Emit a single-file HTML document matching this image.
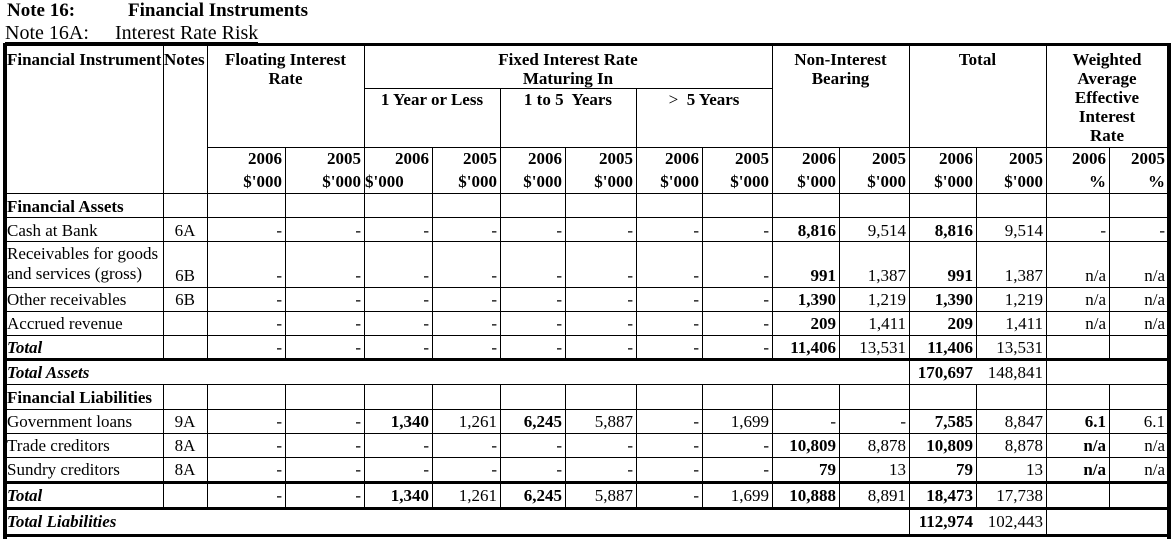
<!DOCTYPE html>
<html><head><meta charset="utf-8">
<style>
body{margin:0;background:#fff;width:1174px;height:539px;overflow:hidden;position:relative;font-family:"Liberation Serif",serif;color:#000}
.a{position:absolute;white-space:nowrap}
.r{position:absolute;left:0;width:1174px;font-size:17px}
.r .a{text-align:right}
.b{font-weight:bold}
.k0{left:207px;width:75px}.k1{left:285px;width:76px}.k2{left:364px;width:65px}.k3{left:432px;width:65px}
.k4{left:500px;width:62px}.k5{left:565px;width:68px}.k6{left:636px;width:63px}.k7{left:702px;width:67px}
.k8{left:772px;width:64px}.k9{left:839px;width:67px}.k10{left:909px;width:64px}.k11{left:976px;width:67px}
.k12{left:1046px;width:60px}.k13{left:1109px;width:56px}
.r .lab{left:7px;text-align:left}
.r .nt{left:163px;width:44px;text-align:center}
.h{font-weight:bold;font-size:17px;text-align:center;line-height:19px}
</style></head><body>
<div class="a b" style="left:7px;top:0px;font-size:19px;line-height:22px">Note 16:</div>
<div class="a b" style="left:128px;top:0px;font-size:19px;line-height:22px">Financial Instruments</div>
<div class="a" style="left:5px;top:21px;font-size:20px;line-height:24px;width:253px;border-bottom:1px solid #000;height:21px;overflow:visible">Note 16A:<span class="a" style="left:110px;top:0">Interest Rate Risk</span></div>

<svg class="a" style="left:0;top:0" width="1174" height="539" shape-rendering="crispEdges">
<g stroke="#000" stroke-width="1">
<line x1="364" y1="88.5" x2="772" y2="88.5"/>
<line x1="207" y1="147.5" x2="1168" y2="147.5"/>
<line x1="4" y1="193.5" x2="1168" y2="193.5"/>
<line x1="4" y1="217.5" x2="1168" y2="217.5"/>
<line x1="4" y1="241.5" x2="1168" y2="241.5"/>
<line x1="4" y1="287.5" x2="1168" y2="287.5"/>
<line x1="4" y1="311.5" x2="1168" y2="311.5"/>
<line x1="4" y1="335.5" x2="1168" y2="335.5"/>
<line x1="4" y1="384.5" x2="1168" y2="384.5"/>
<line x1="4" y1="409.5" x2="1168" y2="409.5"/>
<line x1="4" y1="433.5" x2="1168" y2="433.5"/>
<line x1="4" y1="457.5" x2="1168" y2="457.5"/>
<path d="M163.5 46V359M207.5 46V359M364.5 46V359M772.5 46V359M909.5 46V359M1046.5 46V359"/>
<path d="M500.5 88V359M636.5 88V359"/>
<path d="M285.5 147V359M432.5 147V359M565.5 147V359M702.5 147V359M839.5 147V359M976.5 147V359M1109.5 147V359"/>
<path d="M163.5 384V509M207.5 384V509M285.5 384V509M364.5 384V509M432.5 384V509M500.5 384V509M565.5 384V509M636.5 384V509M702.5 384V509M772.5 384V509M839.5 384V509M909.5 384V509M976.5 384V509M1046.5 384V509M1109.5 384V509"/>
<path d="M909.5 359V384M1046.5 359V384M909.5 509V536M1046.5 509V536"/>
</g>
<g fill="#000">
<rect x="3" y="43" width="1168" height="3"/>
<rect x="3" y="43" width="4" height="496"/>
<rect x="1167" y="43" width="4" height="496"/>
<rect x="3" y="358" width="1168" height="3"/>
<rect x="3" y="481" width="1168" height="3"/>
<rect x="3" y="507" width="1168" height="3"/>
<rect x="3" y="534" width="1168" height="3"/>
</g>
</svg>

<div class="a h" style="left:7px;top:50px;text-align:left">Financial Instrument</div>
<div class="a h" style="left:164px;top:50px;text-align:left">Notes</div>
<div class="a h" style="left:207px;top:50px;width:157px">Floating Interest<br>Rate</div>
<div class="a h" style="left:364px;top:50px;width:408px">Fixed Interest Rate<br>Maturing In</div>
<div class="a h" style="left:364px;top:90px;width:136px">1 Year or Less</div>
<div class="a h" style="left:500px;top:90px;width:136px">1 to 5&nbsp; Years</div>
<div class="a h" style="left:636px;top:90px;width:136px"><span style="font-weight:normal">&gt;</span>&nbsp; 5 Years</div>
<div class="a h" style="left:772px;top:50px;width:137px">Non-Interest<br>Bearing</div>
<div class="a h" style="left:909px;top:50px;width:137px">Total</div>
<div class="a h" style="left:1046px;top:50px;width:122px">Weighted<br>Average<br>Effective<br>Interest<br>Rate</div>

<div class="r b" style="top:149px;height:20px;line-height:20px">
<div class="a k0">2006</div><div class="a k1">2005</div><div class="a k2">2006</div><div class="a k3">2005</div><div class="a k4">2006</div><div class="a k5">2005</div><div class="a k6">2006</div><div class="a k7">2005</div><div class="a k8">2006</div><div class="a k9">2005</div><div class="a k10">2006</div><div class="a k11">2005</div><div class="a k12">2006</div><div class="a k13">2005</div>
</div>
<div class="r b" style="top:172px;height:20px;line-height:20px">
<div class="a k0">$'000</div><div class="a k1">$'000</div><div class="a" style="left:365px;text-align:left">$'000</div><div class="a k3">$'000</div><div class="a k4">$'000</div><div class="a k5">$'000</div><div class="a k6">$'000</div><div class="a k7">$'000</div><div class="a k8">$'000</div><div class="a k9">$'000</div><div class="a k10">$'000</div><div class="a k11">$'000</div><div class="a k12">%</div><div class="a k13">%</div>
</div>

<div class="r" style="top:196px;line-height:21px"><div class="a lab b">Financial Assets</div></div>
<div class="r" style="top:220px;line-height:21px"><div class="a lab">Cash at Bank</div><div class="a nt">6A</div>
<div class="a k0">-</div><div class="a k1">-</div><div class="a k2">-</div><div class="a k3">-</div><div class="a k4">-</div><div class="a k5">-</div><div class="a k6">-</div><div class="a k7">-</div><div class="a k8 b">8,816</div><div class="a k9">9,514</div><div class="a k10 b">8,816</div><div class="a k11">9,514</div><div class="a k12">-</div><div class="a k13">-</div></div>
<div class="r" style="top:244px;line-height:20px"><div class="a lab">Receivables for goods<br>and services (gross)</div></div>
<div class="r" style="top:265px;line-height:21px"><div class="a nt">6B</div>
<div class="a k0">-</div><div class="a k1">-</div><div class="a k2">-</div><div class="a k3">-</div><div class="a k4">-</div><div class="a k5">-</div><div class="a k6">-</div><div class="a k7">-</div><div class="a k8 b">991</div><div class="a k9">1,387</div><div class="a k10 b">991</div><div class="a k11">1,387</div><div class="a k12">n/a</div><div class="a k13">n/a</div></div>
<div class="r" style="top:289px;line-height:21px"><div class="a lab">Other receivables</div><div class="a nt">6B</div>
<div class="a k0">-</div><div class="a k1">-</div><div class="a k2">-</div><div class="a k3">-</div><div class="a k4">-</div><div class="a k5">-</div><div class="a k6">-</div><div class="a k7">-</div><div class="a k8 b">1,390</div><div class="a k9">1,219</div><div class="a k10 b">1,390</div><div class="a k11">1,219</div><div class="a k12">n/a</div><div class="a k13">n/a</div></div>
<div class="r" style="top:313px;line-height:21px"><div class="a lab">Accrued revenue</div>
<div class="a k0">-</div><div class="a k1">-</div><div class="a k2">-</div><div class="a k3">-</div><div class="a k4">-</div><div class="a k5">-</div><div class="a k6">-</div><div class="a k7">-</div><div class="a k8 b">209</div><div class="a k9">1,411</div><div class="a k10 b">209</div><div class="a k11">1,411</div><div class="a k12">n/a</div><div class="a k13">n/a</div></div>
<div class="r" style="top:337px;line-height:21px"><div class="a lab b"><i>Total</i></div>
<div class="a k0">-</div><div class="a k1">-</div><div class="a k2">-</div><div class="a k3">-</div><div class="a k4">-</div><div class="a k5">-</div><div class="a k6">-</div><div class="a k7">-</div><div class="a k8 b">11,406</div><div class="a k9">13,531</div><div class="a k10 b">11,406</div><div class="a k11">13,531</div></div>
<div class="r" style="top:362px;line-height:21px"><div class="a lab b"><i>Total Assets</i></div><div class="a k10 b">170,697</div><div class="a k11">148,841</div></div>
<div class="r" style="top:387px;line-height:21px"><div class="a lab b">Financial Liabilities</div></div>
<div class="r" style="top:411px;line-height:21px"><div class="a lab">Government loans</div><div class="a nt">9A</div>
<div class="a k0">-</div><div class="a k1">-</div><div class="a k2 b">1,340</div><div class="a k3">1,261</div><div class="a k4 b">6,245</div><div class="a k5">5,887</div><div class="a k6">-</div><div class="a k7">1,699</div><div class="a k8">-</div><div class="a k9">-</div><div class="a k10 b">7,585</div><div class="a k11">8,847</div><div class="a k12 b">6.1</div><div class="a k13">6.1</div></div>
<div class="r" style="top:435px;line-height:21px"><div class="a lab">Trade creditors</div><div class="a nt">8A</div>
<div class="a k0">-</div><div class="a k1">-</div><div class="a k2">-</div><div class="a k3">-</div><div class="a k4">-</div><div class="a k5">-</div><div class="a k6">-</div><div class="a k7">-</div><div class="a k8 b">10,809</div><div class="a k9">8,878</div><div class="a k10 b">10,809</div><div class="a k11">8,878</div><div class="a k12 b">n/a</div><div class="a k13">n/a</div></div>
<div class="r" style="top:459px;line-height:21px"><div class="a lab">Sundry creditors</div><div class="a nt">8A</div>
<div class="a k0">-</div><div class="a k1">-</div><div class="a k2">-</div><div class="a k3">-</div><div class="a k4">-</div><div class="a k5">-</div><div class="a k6">-</div><div class="a k7">-</div><div class="a k8 b">79</div><div class="a k9">13</div><div class="a k10 b">79</div><div class="a k11">13</div><div class="a k12 b">n/a</div><div class="a k13">n/a</div></div>
<div class="r" style="top:485px;line-height:22px"><div class="a lab b"><i>Total</i></div>
<div class="a k0">-</div><div class="a k1">-</div><div class="a k2 b">1,340</div><div class="a k3">1,261</div><div class="a k4 b">6,245</div><div class="a k5">5,887</div><div class="a k6">-</div><div class="a k7">1,699</div><div class="a k8 b">10,888</div><div class="a k9">8,891</div><div class="a k10 b">18,473</div><div class="a k11">17,738</div></div>
<div class="r" style="top:511px;line-height:22px"><div class="a lab b"><i>Total Liabilities</i></div><div class="a k10 b">112,974</div><div class="a k11">102,443</div></div>
</body></html>
